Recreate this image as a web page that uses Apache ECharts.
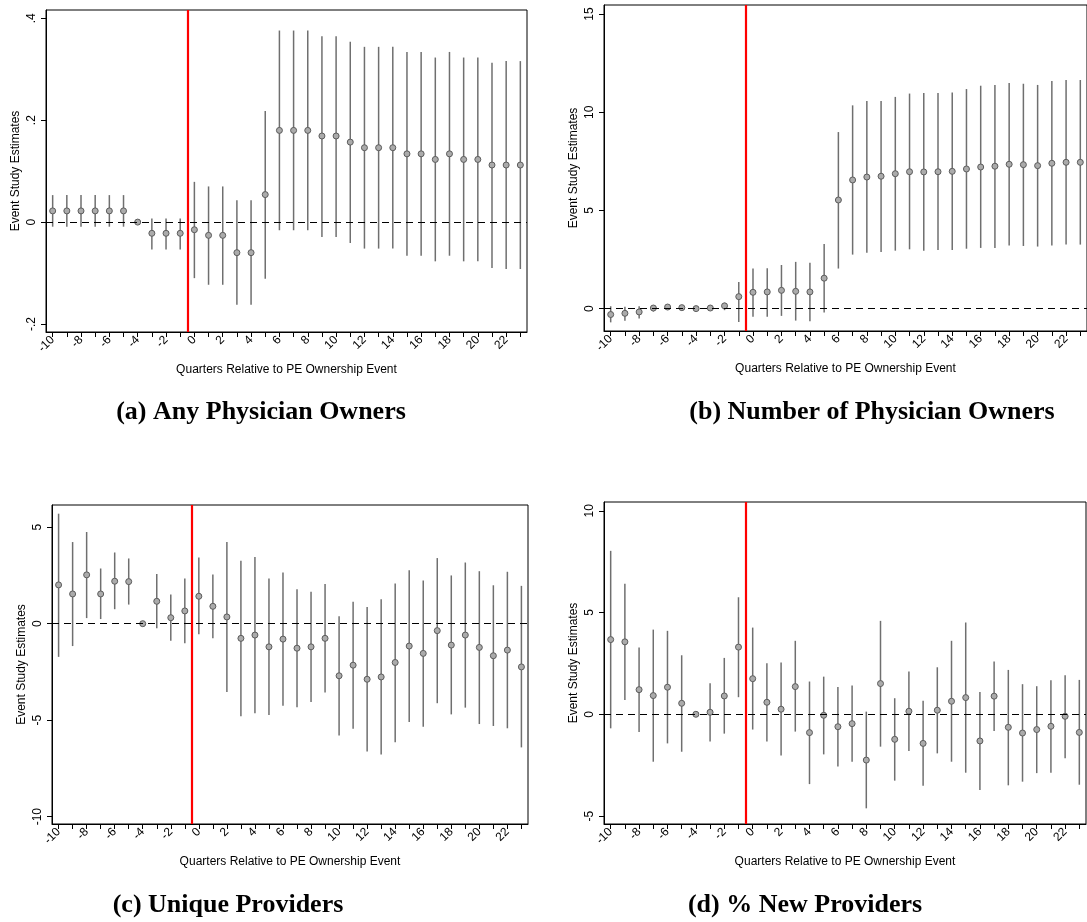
<!DOCTYPE html>
<html>
<head>
<meta charset="utf-8">
<script src="https://cdn.jsdelivr.net/npm/echarts@6/dist/echarts.min.js"></script>
<style>
  html, body { margin: 0; padding: 0; background: #fff; }
  #chart { width: 1087px; height: 922px; }
</style>
</head>
<body>
<div id="chart"></div>
<script>
// Event time (quarters relative to the PE ownership event)
const quarters = [-10,-9,-8,-7,-6,-5,-4,-3,-2,-1,0,1,2,3,4,5,6,7,8,9,10,11,12,13,14,15,16,17,18,19,20,21,22,23];
const xLabelTicks = [-10,-8,-6,-4,-2,0,2,4,6,8,10,12,14,16,18,20,22];

// (a) Any physician owners: point estimates and 95% CI bounds (null = omitted reference period)
const aEst = [0.022,0.022,0.022,0.022,0.022,0.022,0,-0.022,-0.022,-0.022,-0.015,-0.026,-0.026,-0.060,-0.060,0.054,0.180,0.180,0.180,0.169,0.169,0.157,0.146,0.146,0.146,0.134,0.134,0.123,0.134,0.123,0.123,0.112,0.112,0.112];
const aLo  = [-0.009,-0.009,-0.009,-0.009,-0.009,-0.009,null,-0.054,-0.054,-0.054,-0.110,-0.123,-0.123,-0.162,-0.162,-0.111,-0.016,-0.016,-0.016,-0.029,-0.029,-0.041,-0.052,-0.052,-0.052,-0.066,-0.066,-0.077,-0.066,-0.077,-0.077,-0.090,-0.092,-0.092];
const aHi  = [0.053,0.053,0.053,0.053,0.053,0.053,null,0.007,0.007,0.007,0.079,0.070,0.070,0.043,0.043,0.218,0.376,0.376,0.376,0.365,0.365,0.354,0.344,0.344,0.344,0.334,0.334,0.323,0.334,0.323,0.323,0.313,0.316,0.316];
const aTicks = [-0.2, 0, 0.2, 0.4];

// (b) Number of physician owners
const bEst = [-0.30,-0.24,-0.17,0.03,0.08,0.05,0,0.03,0.14,0.61,0.83,0.85,0.93,0.88,0.85,1.55,5.53,6.55,6.70,6.74,6.87,6.97,6.96,6.97,6.99,7.11,7.21,7.25,7.35,7.33,7.28,7.40,7.45,7.45];
const bLo  = [-0.70,-0.62,-0.50,-0.15,-0.05,-0.03,null,-0.05,-0.08,-0.68,-0.41,-0.41,-0.37,-0.61,-0.64,-0.20,2.04,2.75,2.85,2.88,2.95,3.02,2.95,2.99,2.99,3.05,3.09,3.09,3.21,3.19,3.16,3.21,3.26,3.26];
const bHi  = [0.12,0.10,0.12,0.18,0.18,0.12,null,0.10,0.30,1.36,2.04,2.05,2.22,2.38,2.34,3.29,8.99,10.35,10.57,10.57,10.78,10.95,10.98,10.98,11.01,11.18,11.35,11.39,11.49,11.45,11.39,11.59,11.64,11.64];
const bTicks = [0, 5, 10, 15];

// (c) Unique providers
const cEst = [2.01,1.54,2.53,1.54,2.20,2.18,0,1.16,0.31,0.66,1.42,0.90,0.35,-0.76,-0.59,-1.20,-0.80,-1.27,-1.20,-0.76,-2.70,-2.15,-2.88,-2.76,-2.01,-1.16,-1.54,-0.36,-1.11,-0.59,-1.23,-1.66,-1.37,-2.24];
const cLo  = [-1.72,-1.16,0.29,0.24,0.75,0.99,null,-0.24,-0.88,-1.02,-0.55,-0.76,-3.54,-4.80,-4.64,-4.73,-4.25,-4.33,-4.06,-3.57,-5.79,-5.44,-6.62,-6.78,-6.14,-5.10,-5.34,-4.12,-4.70,-4.35,-5.20,-5.30,-5.42,-6.41];
const cHi  = [5.70,4.23,4.75,2.86,3.69,3.38,null,2.58,1.51,2.34,3.43,2.55,4.23,3.26,3.45,2.34,2.65,1.79,1.65,2.06,0.38,1.14,0.87,1.27,2.08,2.77,2.24,3.40,2.50,3.17,2.72,1.99,2.69,1.96];
const cTicks = [-10, -5, 0, 5];

// (d) % new providers
const dEst = [3.67,3.56,1.21,0.92,1.33,0.54,0,0.10,0.90,3.30,1.75,0.59,0.25,1.36,-0.90,-0.05,-0.61,-0.46,-2.25,1.51,-1.23,0.15,-1.43,0.20,0.64,0.82,-1.31,0.89,-0.64,-0.92,-0.75,-0.59,-0.10,-0.89];
const dLo  = [-0.69,0.70,-0.87,-2.33,-1.43,-1.84,null,-1.34,-0.95,0.84,-0.75,-1.34,-2.03,-0.85,-3.43,-1.97,-2.57,-2.33,-4.62,-1.59,-3.26,-1.80,-3.51,-1.92,-2.33,-2.87,-3.72,-0.82,-3.49,-3.31,-2.89,-2.87,-2.16,-3.46];
const dHi  = [8.03,6.41,3.28,4.16,4.10,2.90,null,1.52,2.77,5.75,4.26,2.51,2.54,3.61,1.61,1.85,1.34,1.41,0.13,4.59,0.79,2.10,0.66,2.31,3.61,4.51,1.10,2.59,2.18,1.48,1.38,1.67,1.92,1.69];
const dTicks = [-5, 0, 5, 10];

const captions = ['(a) Any Physician Owners', '(b) Number of Physician Owners', '(c) Unique Providers', '(d) % New Providers'];
const xTitle = 'Quarters Relative to PE Ownership Event';
const yTitle = 'Event Study Estimates';
const eventLine = -0.5;   // treatment starts between quarter -1 and 0

// Panel layout
const panels = [
  { est: aEst, lo: aLo, hi: aHi, ticks: aTicks, yMin: -0.2157, yMax: 0.4163,
    grid: { left: 46, top: 10, width: 481, height: 322 }, cap: [261, 412] },
  { est: bEst, lo: bLo, hi: bHi, ticks: bTicks, yMin: -1.14, yMax: 15.46,
    grid: { left: 604, top: 5, width: 487, height: 326 }, cap: [872, 412] },
  { est: cEst, lo: cLo, hi: cHi, ticks: cTicks, yMin: -10.38, yMax: 6.15,
    grid: { left: 52, top: 505, width: 476, height: 319 }, cap: [228, 905] },
  { est: dEst, lo: dLo, hi: dHi, ticks: dTicks, yMin: -5.39, yMax: 10.43,
    grid: { left: 604, top: 502, width: 482, height: 322 }, cap: [805, 905] }
];

// Stata-style number format: .4, -.2
function stataFmt(v) {
  const s = String(+v.toFixed(6));
  return s.replace(/^(-?)0\./, '$1.');
}

const sans = '"Liberation Sans", Arial, Helvetica, sans-serif';
const grids = [], xAxes = [], yAxes = [], series = [], graphics = [];

panels.forEach((p, i) => {
  grids.push(Object.assign({ show: true, borderColor: '#000', borderWidth: 1, backgroundColor: '#fff' }, p.grid));

  xAxes.push({
    type: 'value', gridIndex: i, min: -10.47, max: 23.47,
    axisLine: { show: true, onZero: false, lineStyle: { color: '#000', width: 1 } },
    axisTick: { show: true, customValues: quarters, length: 5, lineStyle: { color: '#000', width: 1 } },
    axisLabel: { customValues: xLabelTicks, rotate: 45, margin: 6, fontSize: 12, color: '#000', fontFamily: sans,
                 formatter: v => String(v) },
    splitLine: { show: false },
    name: xTitle, nameLocation: 'middle', nameGap: 32,
    nameTextStyle: { fontSize: 12, color: '#000', fontFamily: sans }
  });

  yAxes.push({
    type: 'value', gridIndex: i, min: p.yMin, max: p.yMax,
    axisLine: { show: true, onZero: false, lineStyle: { color: '#000', width: 1 } },
    axisTick: { show: true, customValues: p.ticks, length: 5, lineStyle: { color: '#000', width: 1 } },
    axisLabel: { customValues: p.ticks, rotate: 90, margin: 8, fontSize: 12, color: '#000', fontFamily: sans,
                 formatter: stataFmt },
    splitLine: { show: false },
    name: yTitle, nameLocation: 'middle', nameGap: 24, nameRotate: 90,
    nameTextStyle: { fontSize: 12, color: '#000', fontFamily: sans }
  });

  // Confidence interval whiskers
  const ciData = [];
  quarters.forEach((q, k) => { if (p.lo[k] != null) ciData.push([q, p.lo[k], p.hi[k]]); });
  series.push({
    type: 'custom', xAxisIndex: i, yAxisIndex: i, data: ciData, z: 2,
    encode: { x: 0, y: [1, 2] },
    renderItem: (params, api) => {
      const a = api.coord([api.value(0), api.value(1)]);
      const b = api.coord([api.value(0), api.value(2)]);
      return { type: 'line', shape: { x1: a[0], y1: a[1], x2: b[0], y2: b[1] },
               style: { stroke: '#6f6f6f', lineWidth: 1.5 } };
    }
  });

  // Point estimates plus reference lines
  series.push({
    type: 'scatter', xAxisIndex: i, yAxisIndex: i, z: 4,
    data: quarters.map((q, k) => [q, p.est[k]]),
    symbol: 'circle', symbolSize: 6,
    itemStyle: { color: '#ababab', borderColor: '#5c5c5c', borderWidth: 1, opacity: 1 },
    markLine: {
      silent: true, symbol: ['none', 'none'], label: { show: false }, animation: false,
      data: [
        { yAxis: 0, lineStyle: { color: '#000', width: 1, type: [7, 5] } },
        { xAxis: eventLine, lineStyle: { color: '#ff0000', width: 2.2, type: 'solid' } }
      ]
    }
  });

  graphics.push({
    type: 'text', x: p.cap[0], y: p.cap[1],
    style: { text: captions[i], font: 'bold 26px "Liberation Serif", "Times New Roman", serif',
             textAlign: 'center', textVerticalAlign: 'middle', fill: '#000' }
  });
});

const chart = echarts.init(document.getElementById('chart'), null, { renderer: 'canvas' });
chart.setOption({
  animation: false,
  backgroundColor: '#fff',
  grid: grids, xAxis: xAxes, yAxis: yAxes, series: series,
  graphic: graphics
});
</script>
</body>
</html>
